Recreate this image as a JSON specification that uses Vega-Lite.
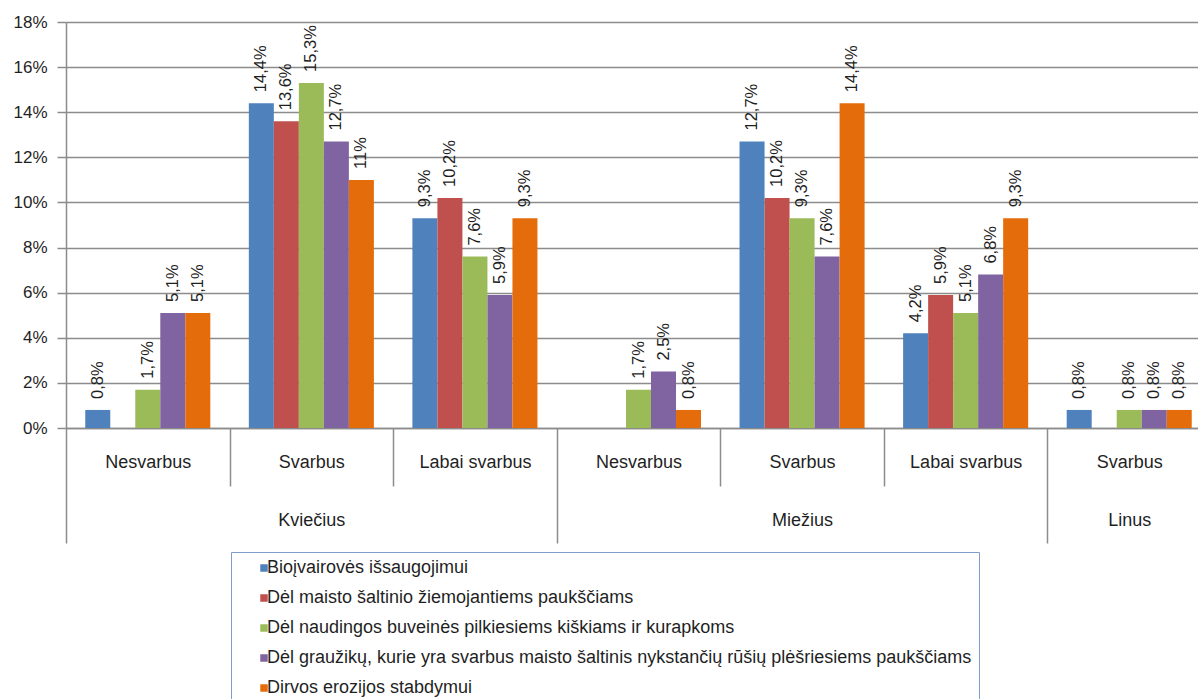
{
  "$schema": "https://vega.github.io/schema/vega-lite/v6.json",
  "autosize": {"type": "none"},
  "padding": {"left": 66, "top": 22, "right": 0, "bottom": 271},
  "width": 1145,
  "height": 406,
  "config": {
    "font": "Liberation Sans",
    "view": {"stroke": null},
    "locale": {"number": {"decimal": ",", "thousands": " ", "grouping": [3], "currency": ["", " €"]}}
  },
  "data": {
    "values": [
      {"group": "Kviečius / Nesvarbus", "series": "Bioįvairovės išsaugojimui", "value": 0.008},
      {"group": "Kviečius / Nesvarbus", "series": "Dėl naudingos buveinės pilkiesiems kiškiams ir kurapkoms", "value": 0.017},
      {"group": "Kviečius / Nesvarbus", "series": "Dėl graužikų, kurie yra svarbus maisto šaltinis nykstančių rūšių plėšriesiems paukščiams", "value": 0.051},
      {"group": "Kviečius / Nesvarbus", "series": "Dirvos erozijos stabdymui", "value": 0.051},
      {"group": "Kviečius / Svarbus", "series": "Bioįvairovės išsaugojimui", "value": 0.144},
      {"group": "Kviečius / Svarbus", "series": "Dėl maisto šaltinio žiemojantiems paukščiams", "value": 0.136},
      {"group": "Kviečius / Svarbus", "series": "Dėl naudingos buveinės pilkiesiems kiškiams ir kurapkoms", "value": 0.153},
      {"group": "Kviečius / Svarbus", "series": "Dėl graužikų, kurie yra svarbus maisto šaltinis nykstančių rūšių plėšriesiems paukščiams", "value": 0.127},
      {"group": "Kviečius / Svarbus", "series": "Dirvos erozijos stabdymui", "value": 0.11},
      {"group": "Kviečius / Labai svarbus", "series": "Bioįvairovės išsaugojimui", "value": 0.093},
      {"group": "Kviečius / Labai svarbus", "series": "Dėl maisto šaltinio žiemojantiems paukščiams", "value": 0.102},
      {"group": "Kviečius / Labai svarbus", "series": "Dėl naudingos buveinės pilkiesiems kiškiams ir kurapkoms", "value": 0.076},
      {"group": "Kviečius / Labai svarbus", "series": "Dėl graužikų, kurie yra svarbus maisto šaltinis nykstančių rūšių plėšriesiems paukščiams", "value": 0.059},
      {"group": "Kviečius / Labai svarbus", "series": "Dirvos erozijos stabdymui", "value": 0.093},
      {"group": "Miežius / Nesvarbus", "series": "Dėl naudingos buveinės pilkiesiems kiškiams ir kurapkoms", "value": 0.017},
      {"group": "Miežius / Nesvarbus", "series": "Dėl graužikų, kurie yra svarbus maisto šaltinis nykstančių rūšių plėšriesiems paukščiams", "value": 0.025},
      {"group": "Miežius / Nesvarbus", "series": "Dirvos erozijos stabdymui", "value": 0.008},
      {"group": "Miežius / Svarbus", "series": "Bioįvairovės išsaugojimui", "value": 0.127},
      {"group": "Miežius / Svarbus", "series": "Dėl maisto šaltinio žiemojantiems paukščiams", "value": 0.102},
      {"group": "Miežius / Svarbus", "series": "Dėl naudingos buveinės pilkiesiems kiškiams ir kurapkoms", "value": 0.093},
      {"group": "Miežius / Svarbus", "series": "Dėl graužikų, kurie yra svarbus maisto šaltinis nykstančių rūšių plėšriesiems paukščiams", "value": 0.076},
      {"group": "Miežius / Svarbus", "series": "Dirvos erozijos stabdymui", "value": 0.144},
      {"group": "Miežius / Labai svarbus", "series": "Bioįvairovės išsaugojimui", "value": 0.042},
      {"group": "Miežius / Labai svarbus", "series": "Dėl maisto šaltinio žiemojantiems paukščiams", "value": 0.059},
      {"group": "Miežius / Labai svarbus", "series": "Dėl naudingos buveinės pilkiesiems kiškiams ir kurapkoms", "value": 0.051},
      {"group": "Miežius / Labai svarbus", "series": "Dėl graužikų, kurie yra svarbus maisto šaltinis nykstančių rūšių plėšriesiems paukščiams", "value": 0.068},
      {"group": "Miežius / Labai svarbus", "series": "Dirvos erozijos stabdymui", "value": 0.093},
      {"group": "Linus / Svarbus", "series": "Bioįvairovės išsaugojimui", "value": 0.008},
      {"group": "Linus / Svarbus", "series": "Dėl naudingos buveinės pilkiesiems kiškiams ir kurapkoms", "value": 0.008},
      {"group": "Linus / Svarbus", "series": "Dėl graužikų, kurie yra svarbus maisto šaltinis nykstančių rūšių plėšriesiems paukščiams", "value": 0.008},
      {"group": "Linus / Svarbus", "series": "Dirvos erozijos stabdymui", "value": 0.008}
    ]
  },
  "encoding": {
    "x": {
      "field": "group",
      "type": "nominal",
      "scale": {
        "domain": ["Kviečius / Nesvarbus", "Kviečius / Svarbus", "Kviečius / Labai svarbus", "Miežius / Nesvarbus", "Miežius / Svarbus", "Miežius / Labai svarbus", "Linus / Svarbus"],
        "paddingInner": 0,
        "paddingOuter": 0
      },
      "axis": {
        "title": null,
        "labelAngle": 0,
        "labelExpr": "(datum.value == 'Kviečius / Svarbus' || datum.value == 'Miežius / Svarbus' || datum.value == 'Linus / Svarbus') ? [split(datum.value, ' / ')[1], split(datum.value, ' / ')[0]] : split(datum.value, ' / ')[1]",
        "labelFontSize": 18,
        "labelColor": "#1f1f1f",
        "labelLineHeight": 58,
        "labelPadding": {"condition": {"test": "indexof(['Kviečius / Nesvarbus', 'Kviečius / Svarbus', 'Miežius / Nesvarbus', 'Miežius / Svarbus'], datum.value) >= 0", "value": -24}, "value": -81},
        "labelBaseline": "middle",
        "tickBand": "extent",
        "tickColor": "#8c8c8c",
        "tickWidth": 1.5,
        "tickSize": {"condition": {"test": "indexof(['Kviečius / Nesvarbus', 'Kviečius / Svarbus', 'Miežius / Nesvarbus', 'Miežius / Svarbus'], datum.value) >= 0", "value": 58}, "value": 115},
        "domainColor": "#8c8c8c",
        "domainWidth": 1.5,
        "labelOverlap": false
      }
    },
    "xOffset": {
      "field": "series",
      "type": "nominal",
      "scale": {
        "domain": ["Bioįvairovės išsaugojimui", "Dėl maisto šaltinio žiemojantiems paukščiams", "Dėl naudingos buveinės pilkiesiems kiškiams ir kurapkoms", "Dėl graužikų, kurie yra svarbus maisto šaltinis nykstančių rūšių plėšriesiems paukščiams", "Dirvos erozijos stabdymui"],
        "paddingInner": 0,
        "paddingOuter": 0.77
      }
    },
    "y": {
      "field": "value",
      "type": "quantitative",
      "scale": {"domain": [0, 0.18], "nice": false},
      "axis": {
        "title": null,
        "values": [0, 0.02, 0.04, 0.06, 0.08, 0.1, 0.12, 0.14, 0.16, 0.18],
        "format": ".0%",
        "labelFontSize": 17,
        "labelColor": "#1f1f1f",
        "labelPadding": 10,
        "tickSize": 9,
        "tickColor": "#8c8c8c",
        "tickWidth": 1.5,
        "domainColor": "#8c8c8c",
        "domainWidth": 1.5,
        "grid": true,
        "gridColor": "#8c8c8c",
        "gridWidth": 1.5
      }
    }
  },
  "layer": [
    {
      "mark": {"type": "bar"},
      "encoding": {
        "color": {
          "field": "series",
          "type": "nominal",
          "scale": {
            "domain": ["Bioįvairovės išsaugojimui", "Dėl maisto šaltinio žiemojantiems paukščiams", "Dėl naudingos buveinės pilkiesiems kiškiams ir kurapkoms", "Dėl graužikų, kurie yra svarbus maisto šaltinis nykstančių rūšių plėšriesiems paukščiams", "Dirvos erozijos stabdymui"],
            "range": ["#4F81BD", "#C0504D", "#9BBB59", "#8064A2", "#E46C0A"]
          },
          "legend": {
            "title": null,
            "orient": "none",
            "legendX": 165,
            "legendY": 530,
            "strokeColor": "#7F9DCB",
            "padding": 7,
            "symbolType": "square",
            "symbolSize": 56,
            "symbolStrokeWidth": 0,
            "symbolOffset": 17,
            "labelOffset": -6,
            "labelFontSize": 18,
            "labelColor": "#1f1f1f",
            "labelLimit": 900,
            "rowPadding": 12
          }
        }
      }
    },
    {
      "mark": {"type": "text", "angle": 270, "align": "left", "baseline": "middle", "dx": 11, "fontSize": 16.5, "color": "#1f1f1f"},
      "encoding": {
        "text": {"field": "value", "type": "quantitative", "format": ".1~%"}
      }
    }
  ]
}
